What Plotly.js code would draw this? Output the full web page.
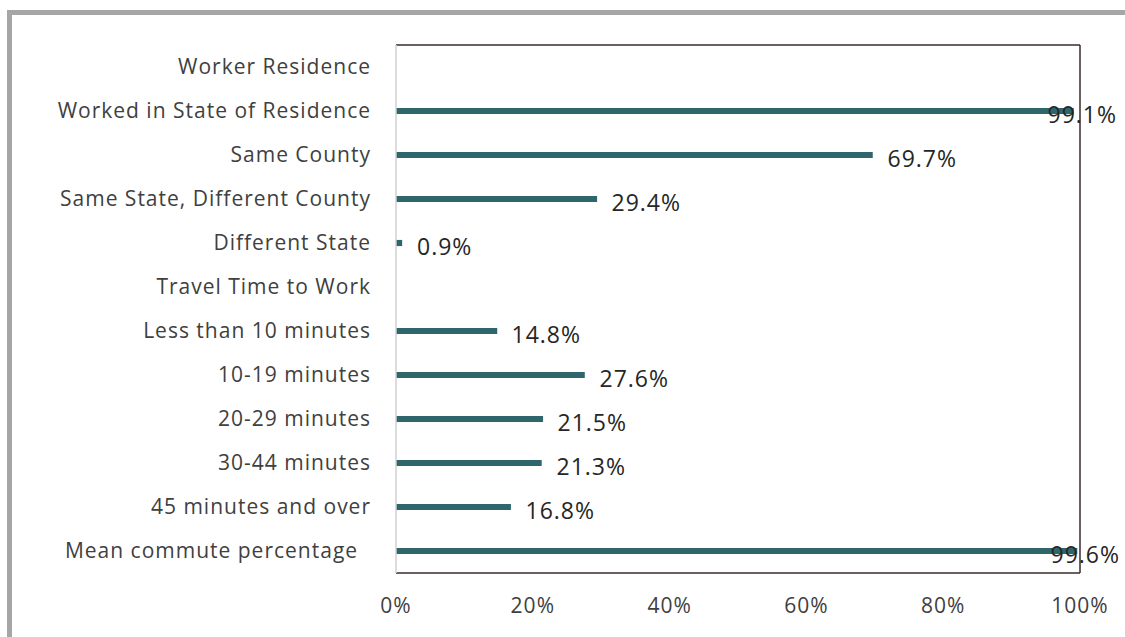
<!DOCTYPE html>
<html>
<head>
<meta charset="utf-8">
<script src="https://cdn.plot.ly/plotly-3.0.1.min.js"></script>
<style>
html,body{margin:0;padding:0;background:#fff;}
#frame{position:absolute;left:7px;top:10px;width:1125px;height:640px;border-left:5px solid #a6a6a6;border-top:5px solid #a6a6a6;box-sizing:border-box;pointer-events:none;z-index:2;}
#chart{position:absolute;left:0;top:0;width:1125px;height:637px;}
#chart .ytick text, #chart .xtick text, #chart .annotation-text{letter-spacing:1px;}
</style>
</head>
<body>
<div id="chart"></div>
<div id="frame"></div>
<script>
var categories = [
  "Worker Residence",
  "Worked in State of Residence",
  "Same County",
  "Same State, Different County",
  "Different State",
  "Travel Time to Work",
  "Less than 10 minutes",
  "10-19 minutes",
  "20-29 minutes",
  "30-44 minutes",
  "45 minutes and over",
  "Mean commute percentage"
];
var categoryLabels = [
  "Worker Residence",
  "Worked in State of Residence",
  "Same County",
  "Same State, Different County",
  "Different State",
  "Travel Time to Work",
  "Less than 10 minutes",
  "10-19 minutes",
  "20-29 minutes",
  "30-44 minutes",
  "45 minutes and over",
  "Mean commute percentage\u00a0\u00a0"
];
var values = [null, 99.1, 69.7, 29.4, 0.9, null, 14.8, 27.6, 21.5, 21.3, 16.8, 99.6];
var tickVals = [0, 20, 40, 60, 80, 100];
var tickText = ["0%", "20%", "40%", "60%", "80%", "100%"];

var barColor = "#2e666c";
var textColor = "#404040";
var fontFam = "'Open Sans', 'DejaVu Sans', sans-serif";

var annotations = [];
for (var i = 0; i < categories.length; i++) {
  if (values[i] === null) continue;
  var big = values[i] > 95;
  annotations.push({
    x: values[i], y: categories[i], xref: "x", yref: "y",
    text: values[i].toFixed(1) + "%",
    showarrow: false, xanchor: "left", yanchor: "middle",
    xshift: big ? -26 : 15, yshift: -3,
    font: {family: fontFam, size: 23, color: "#262626"}
  });
}

var shapes = [
  {type: "line", xref: "paper", yref: "paper", x0: 0, x1: 1, y0: 1, y1: 1, line: {color: "#3a2a2a", width: 1.5}},
  {type: "line", xref: "paper", yref: "paper", x0: 1, x1: 1, y0: 0, y1: 1, line: {color: "#3a2a2a", width: 1.5}},
  {type: "line", xref: "paper", yref: "paper", x0: 0, x1: 1, y0: 0, y1: 0, line: {color: "#3a2a2a", width: 1.5}},
  {type: "line", xref: "paper", yref: "paper", x0: 0, x1: 0, y0: 0, y1: 1, line: {color: "#d0d0d0", width: 1.5}}
];

var trace = {
  type: "bar",
  orientation: "h",
  x: values,
  y: categories,
  width: 0.14,
  marker: {color: barColor},
  hoverinfo: "skip"
};

var layout = {
  width: 1125, height: 637,
  margin: {l: 396, r: 45, t: 45, b: 64},
  paper_bgcolor: "#ffffff", plot_bgcolor: "#ffffff",
  showlegend: false,
  font: {family: fontFam, color: textColor},
  xaxis: {
    range: [0, 100], tickvals: tickVals, ticktext: tickText,
    showgrid: false, zeroline: false, showline: false, ticks: "",
    tickfont: {family: fontFam, size: 21, color: textColor},
    ticklabelstandoff: 18, fixedrange: true
  },
  yaxis: {
    type: "category", categoryorder: "array", categoryarray: categories,
    tickvals: categories, ticktext: categoryLabels,
    autorange: "reversed",
    showgrid: false, zeroline: false, showline: false, ticks: "",
    tickfont: {family: fontFam, size: 21, color: textColor},
    ticklabelstandoff: 24, fixedrange: true
  },
  annotations: annotations,
  shapes: shapes
};

Plotly.newPlot("chart", [trace], layout, {displayModeBar: false, staticPlot: true});
</script>
</body>
</html>
